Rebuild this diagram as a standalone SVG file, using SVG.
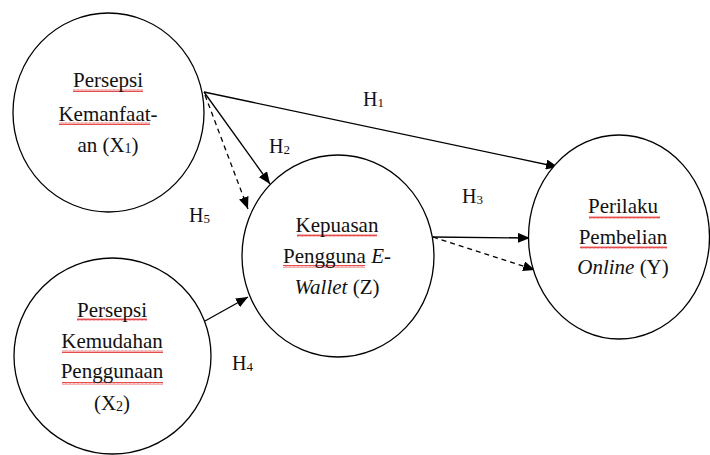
<svg xmlns="http://www.w3.org/2000/svg" width="710" height="455" viewBox="0 0 710 455">
<style>
.node{fill:#fff;stroke:#000;stroke-width:1.3}
text{font-family:'Liberation Serif','Times New Roman',Tinos,'DejaVu Serif',serif;fill:#111}
.t{font-size:21px;text-anchor:middle}
.h{font-size:20px}
.sub{font-size:13px}
.c{stroke:#000;stroke-width:1.3;fill:none}
.d{stroke-dasharray:5,4}
.sq{fill:url(#zig)}
</style>
<defs>
<marker id="ah" viewBox="0 0 12 10" refX="12" refY="5" markerWidth="12" markerHeight="10" markerUnits="userSpaceOnUse" orient="auto">
<path d="M0,0 L12,5 L0,10 Z" fill="#000"/>
</marker>
<pattern id="zig" width="4" height="3" patternUnits="userSpaceOnUse">
<polyline points="0,2.5 1,0.5 2,2.5 3,0.5 4,2.5" fill="none" stroke="#e02020" stroke-width="0.8"/>
</pattern>
</defs>
<rect width="710" height="455" fill="#fff"/>
<g id="connectors">
<line class="c" x1="204" y1="92" x2="558" y2="167" marker-end="url(#ah)"/>
<line class="c" x1="204" y1="92" x2="270" y2="184" marker-end="url(#ah)"/>
<line class="c d" x1="205" y1="95" x2="248" y2="209" marker-end="url(#ah)"/>
<line class="c" x1="205" y1="321" x2="248" y2="297" marker-end="url(#ah)"/>
<line class="c" x1="433" y1="237" x2="530" y2="238" marker-end="url(#ah)"/>
<line class="c d" x1="433" y1="237" x2="535" y2="270" marker-end="url(#ah)"/>
<text class="h" x="363" y="106" font-family="Liberation Serif, serif">H<tspan class="sub" dy="1">1</tspan></text>
<text class="h" x="269" y="153" font-family="Liberation Serif, serif">H<tspan class="sub" dy="1">2</tspan></text>
<text class="h" x="189" y="222" font-family="Liberation Serif, serif">H<tspan class="sub" dy="1">5</tspan></text>
<text class="h" x="462" y="203" font-family="Liberation Serif, serif">H<tspan class="sub" dy="1">3</tspan></text>
<text class="h" x="232" y="370" font-family="Liberation Serif, serif">H<tspan class="sub" dy="1">4</tspan></text>
</g>
<g id="x1">
<ellipse class="node" cx="108.5" cy="112.5" rx="95.5" ry="99.5"/>
<rect class="sq" x="73" y="89" width="70" height="3"/>
<rect class="sq" x="59" y="122" width="91" height="3"/>
<text class="t" x="108" y="87">Persepsi</text>
<text class="t" x="108" y="121">Kemanfaat-</text>
<text class="t" x="108" y="152">an (X<tspan font-size="14" dy="1">1</tspan><tspan dy="-1">)</tspan></text>
</g>
<g id="x2">
<ellipse class="node" cx="112.5" cy="356" rx="98.5" ry="98"/>
<rect class="sq" x="77" y="318" width="70" height="3"/>
<rect class="sq" x="62" y="350" width="101" height="3"/>
<rect class="sq" x="62" y="382" width="101" height="3"/>
<text class="t" x="112" y="317">Persepsi</text>
<text class="t" x="112" y="348">Kemudahan</text>
<text class="t" x="112" y="378">Penggunaan</text>
<text class="t" x="112" y="410">(X<tspan font-size="14" dy="1">2</tspan><tspan dy="-1">)</tspan></text>
</g>
<g id="z">
<ellipse class="node" cx="338" cy="256" rx="96" ry="101"/>
<rect class="sq" x="297" y="234" width="80" height="3"/>
<rect class="sq" x="283" y="265" width="82" height="3"/>
<text class="t" x="337" y="232">Kepuasan</text>
<text class="t" x="337" y="263">Pengguna <tspan font-style="italic">E</tspan>-</text>
<text class="t" x="337" y="294"><tspan font-style="italic">Wallet</tspan> (Z)</text>
</g>
<g id="y">
<ellipse class="node" cx="619" cy="237" rx="90.5" ry="102"/>
<rect class="sq" x="589" y="216" width="71" height="3"/>
<rect class="sq" x="580" y="246" width="87" height="3"/>
<text class="t" x="623" y="213">Perilaku</text>
<text class="t" x="623" y="244">Pembelian</text>
<text class="t" x="623" y="274"><tspan font-style="italic">Online</tspan> (Y)</text>
</g>
</svg>
